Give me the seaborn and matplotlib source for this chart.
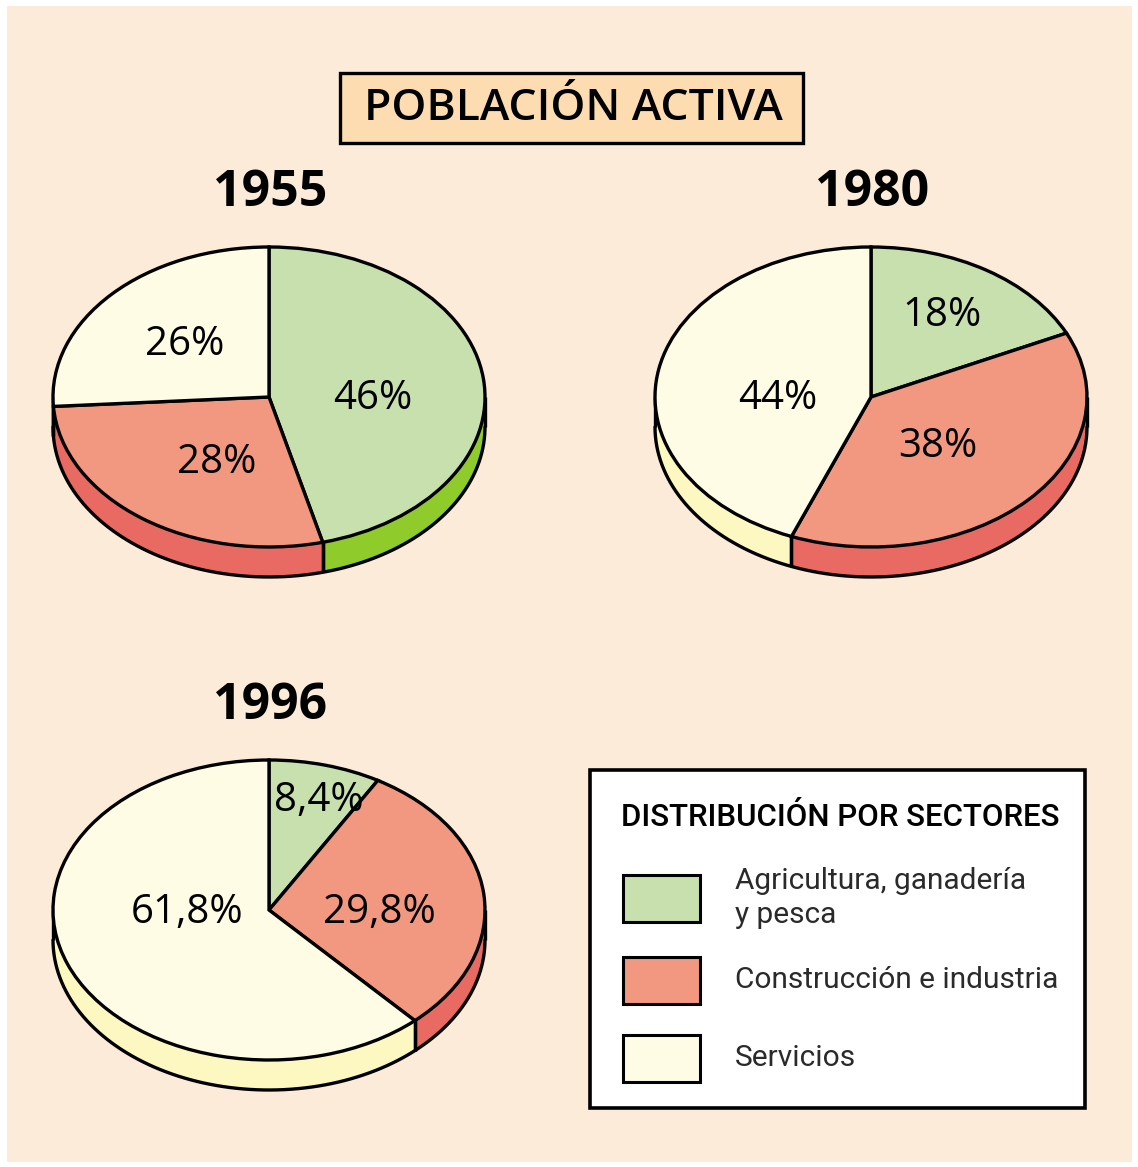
import numpy as np
import matplotlib
matplotlib.use("Agg")
import matplotlib.pyplot as plt
from matplotlib.patches import Rectangle
import seaborn as sns

# ========================== DATA ==========================
sectors = ["Agricultura, ganadería\ny pesca", "Construcción e industria", "Servicios"]
years = ["1955", "1980", "1996"]
shares_1955 = [46, 28, 26]
shares_1980 = [18, 38, 44]
shares_1996 = [8.4, 29.8, 61.8]

# ========================== STYLE ==========================
sns.set_theme(style="white")
plt.rcParams['font.family'] = ['Open Sans', 'DejaVu Sans']
plt.rcParams['text.color'] = 'black'

top_colors = ["#c7e0ae", "#f29780", "#fefce4"]
side_colors = ["#8fcb2a", "#e96a63", "#fdf8c2"]
bg_color = "#fdebd9"
LW = 2.4

W, H = 1138, 1167
RX, RY = 216, 150          # pixel radii of the top face
DEPTH = 0.2                # thickness, in units of RY

fig = plt.figure(figsize=(W / 100, H / 100), dpi=100, facecolor="white")

# full-figure overlay in pixel coordinates (background, title, legend)
bg = fig.add_axes([0, 0, 1, 1])
bg.set_xlim(0, W)
bg.set_ylim(H, 0)
bg.axis('off')
bg.add_patch(Rectangle((7, 6), W - 13, H - 11, fc=bg_color, ec="none"))

bg.add_patch(Rectangle((340, 73), 463, 70, fc="#fcdcb0", ec="black", lw=LW))
bg.text(573, 109, "POBLACIÓN ACTIVA", ha='center', va='center',
        fontsize=32, fontweight='semibold')


def fmt(v):
    return f"{v:g}%".replace(".", ",")


def draw_pie(cx, cy, values, year, label_pos):
    px, ptop, pbot = 1.15, 1.15, 1.45
    ax = fig.add_axes([(cx - px * RX) / W, (H - (cy + pbot * RY)) / H,
                       2 * px * RX / W, (ptop + pbot) * RY / H])
    ax.patch.set_alpha(0)

    # side band of the front half
    cum = np.concatenate([[0], np.cumsum(values)]) / np.sum(values) * 360
    for i in range(len(values)):
        a_hi = 90 - cum[i]
        a_lo = 90 - cum[i + 1]
        lo, hi = max(a_lo, -180), min(a_hi, 0)
        if hi <= lo:
            continue
        t = np.radians(np.linspace(lo, hi, 100))
        xs = np.concatenate([np.cos(t), np.cos(t[::-1])])
        ys = np.concatenate([np.sin(t), np.sin(t[::-1]) - DEPTH])
        ax.fill(xs, ys, color=side_colors[i], lw=0, zorder=1)
        for a in (lo, hi):
            ax.plot([np.cos(np.radians(a))] * 2,
                    [np.sin(np.radians(a)), np.sin(np.radians(a)) - DEPTH],
                    color="black", lw=LW, zorder=2, solid_capstyle='butt')
    t = np.radians(np.linspace(-180, 0, 200))
    ax.plot(np.cos(t), np.sin(t) - DEPTH, color="black", lw=LW, zorder=2)

    wedges, _, autotexts = ax.pie(
        values, colors=top_colors, startangle=90, counterclock=False,
        autopct=lambda p: "", pctdistance=0.5,
        wedgeprops=dict(edgecolor="black", linewidth=LW, zorder=3))
    for w in wedges:
        w.set_zorder(3)
    for txt, v, pos in zip(autotexts, values, label_pos):
        txt.set_text(fmt(v))
        txt.set_position(pos)
        txt.set_fontsize(29)
        txt.set_color("black")
        txt.set_zorder(4)
        txt.set_ha('center')
        txt.set_va('center')
    ax.set_aspect('auto')
    ax.set_xlim(-px, px)
    ax.set_ylim(-pbot, ptop)
    ax.axis('off')

    bg.text(cx + 1, cy - 204, year, ha='center', va='center',
            fontsize=36, fontweight='bold')


draw_pie(269, 397, shares_1955, years[0],
         [(0.48, -0.01), (-0.24, -0.44), (-0.39, 0.35)])
draw_pie(871, 397, shares_1980, years[1],
         [(0.33, 0.54), (0.31, -0.33), (-0.43, -0.01)])
draw_pie(269, 910, shares_1996, years[2],
         [(0.23, 0.73), (0.51, -0.02), (-0.38, -0.02)])

# ========================== LEGEND ==========================
narrow = ['Roboto', 'DejaVu Sans']
bg.add_patch(Rectangle((590, 770), 495, 338, fc="white", ec="black", lw=2.6))
bg.text(840, 818, "DISTRIBUCIÓN POR SECTORES", ha='center', va='center',
        fontsize=22.5, family=narrow, fontweight='medium')
for i, (name, y) in enumerate(zip(sectors, [898, 980, 1058])):
    bg.add_patch(Rectangle((623, y - 23), 77, 47, fc=top_colors[i], ec="black", lw=2.2))
    bg.text(735, y, name, ha='left', va='center', fontsize=21.5,
            family=narrow, color="#2a2a2a", linespacing=1.3)

fig.savefig("out.png", dpi=100, facecolor="white")
